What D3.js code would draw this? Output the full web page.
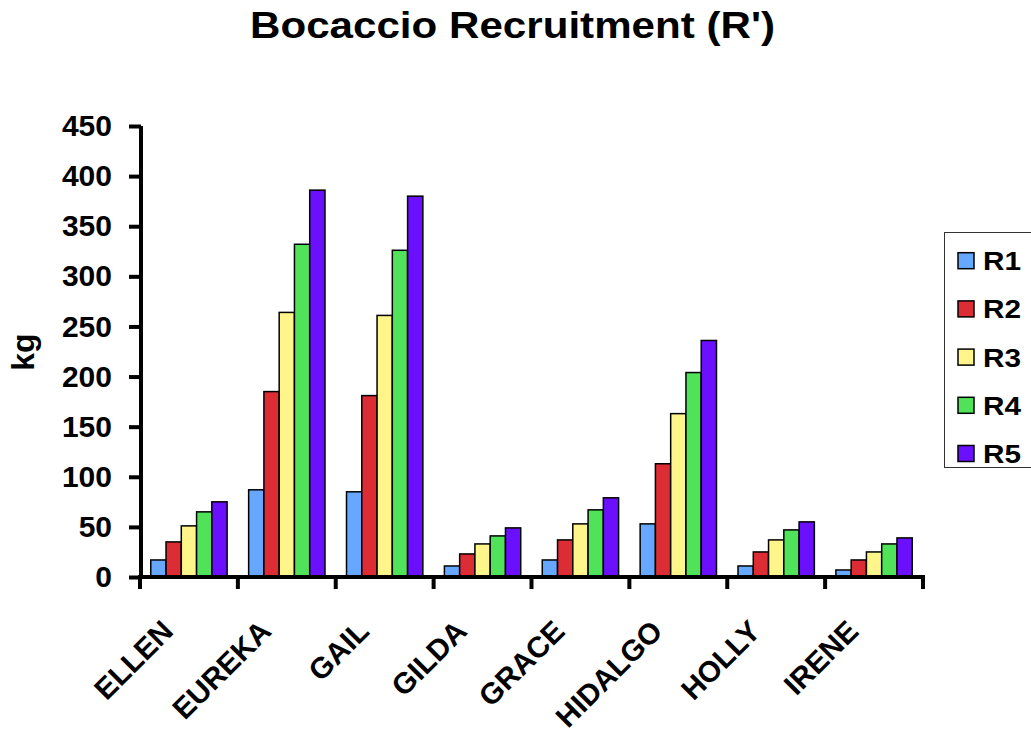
<!DOCTYPE html>
<html>
<head>
<meta charset="utf-8">
<script src="https://cdn.jsdelivr.net/npm/d3@7/dist/d3.min.js"></script>
<style>
  html, body { margin: 0; padding: 0; background: #fff; }
  svg { display: block; font-family: Arial, "Liberation Sans", sans-serif; font-weight: bold; }
</style>
</head>
<body>
<svg id="chart" width="1031" height="735"></svg>
<script>
const categories = ["ELLEN", "EUREKA", "GAIL", "GILDA", "GRACE", "HIDALGO", "HOLLY", "IRENE"];
const seriesNames = ["R1", "R2", "R3", "R4", "R5"];
const R1 = [17, 87, 85, 11, 17, 53, 11, 7];
const R2 = [35, 185, 181, 23, 37, 113, 25, 17];
const R3 = [51, 264, 261, 33, 53, 163, 37, 25];
const R4 = [65, 332, 326, 41, 67, 204, 47, 33];
const R5 = [75, 386, 380, 49, 79, 236, 55, 39];
const seriesValues = [R1, R2, R3, R4, R5];
const seriesColors = ["#66A8FF", "#DC2C34", "#FFF58A", "#50E258", "#6A10FF"];
const yTicks = [0, 50, 100, 150, 200, 250, 300, 350, 400, 450];

const svg = d3.select("#chart");

const y = d3.scaleLinear().domain([0, 450]).range([577, 126]);
const x = d3.scaleBand().domain(categories).range([140, 923]).padding(0);
const bw = x.bandwidth();
const xs = d3.scaleBand().domain(seriesNames).range([bw * 0.11, bw * 0.89]).padding(0);

// Title
svg.append("text")
  .attr("x", 512.5).attr("y", 38)
  .attr("text-anchor", "middle")
  .attr("font-size", 36)
  .attr("textLength", 525).attr("lengthAdjust", "spacingAndGlyphs")
  .text("Bocaccio Recruitment (R')");

// Bars
const groups = svg.append("g").selectAll("g")
  .data(categories).join("g")
  .attr("transform", d => `translate(${x(d)},0)`);

groups.selectAll("rect")
  .data((c, i) => seriesNames.map((s, j) => ({ s, v: seriesValues[j][i], j })))
  .join("rect")
  .attr("x", d => xs(d.s))
  .attr("width", xs.bandwidth())
  .attr("y", d => y(d.v))
  .attr("height", d => y(0) - y(d.v))
  .attr("fill", d => seriesColors[d.j])
  .attr("stroke", "#000")
  .attr("stroke-width", 1.5);

// Y axis
const yAxis = d3.axisLeft(y).tickValues(yTicks).tickSize(12).tickPadding(17);
const yg = svg.append("g").attr("transform", "translate(141,0)").call(yAxis);
yg.select(".domain").attr("stroke-width", 4).attr("d", `M0,${y(450)}V${y(0) + 2}`);
yg.selectAll(".tick line").attr("stroke-width", 4);
yg.selectAll(".tick text").attr("font-size", 30).attr("font-family", "Arial, 'Liberation Sans', sans-serif").attr("font-weight", "bold").attr("fill", "#000");

// X axis
const xTickPos = categories.map(c => x(c)).concat([x.range()[1]]);
const xg = svg.append("g");
xg.append("line").attr("x1", 138).attr("x2", 925).attr("y1", 577).attr("y2", 577)
  .attr("stroke", "#000").attr("stroke-width", 4);
xg.selectAll("line.xt").data(xTickPos).join("line").attr("class", "xt")
  .attr("x1", d => d).attr("x2", d => d).attr("y1", 577).attr("y2", 589)
  .attr("stroke", "#000").attr("stroke-width", 4);
xg.selectAll("text").data(categories).join("text")
  .attr("text-anchor", "end")
  .attr("font-size", 29.5)
  .attr("transform", d => `translate(${x(d) + bw / 2 - 14},633) rotate(-45)`)
  .text(d => d);

// Y label
svg.append("text")
  .attr("transform", "translate(34,352) rotate(-90)")
  .attr("text-anchor", "middle")
  .attr("font-size", 32)
  .text("kg");

// Legend
const lg = svg.append("g");
lg.append("rect").attr("x", 944.5).attr("y", 232.5).attr("width", 120).attr("height", 235)
  .attr("fill", "#fff").attr("stroke", "#333").attr("stroke-width", 1);
const items = lg.selectAll("g.item").data(seriesNames).join("g").attr("class", "item")
  .attr("transform", (d, i) => `translate(0,${260.7 + i * 48.2})`);
items.append("rect").attr("x", 958).attr("y", -8).attr("width", 16).attr("height", 16)
  .attr("fill", (d, i) => seriesColors[i]).attr("stroke", "#000").attr("stroke-width", 1.5);
items.append("text").attr("x", 983).attr("y", 9.5).attr("font-size", 26)
  .attr("textLength", 38).attr("lengthAdjust", "spacingAndGlyphs")
  .text(d => d);
</script>
</body>
</html>
